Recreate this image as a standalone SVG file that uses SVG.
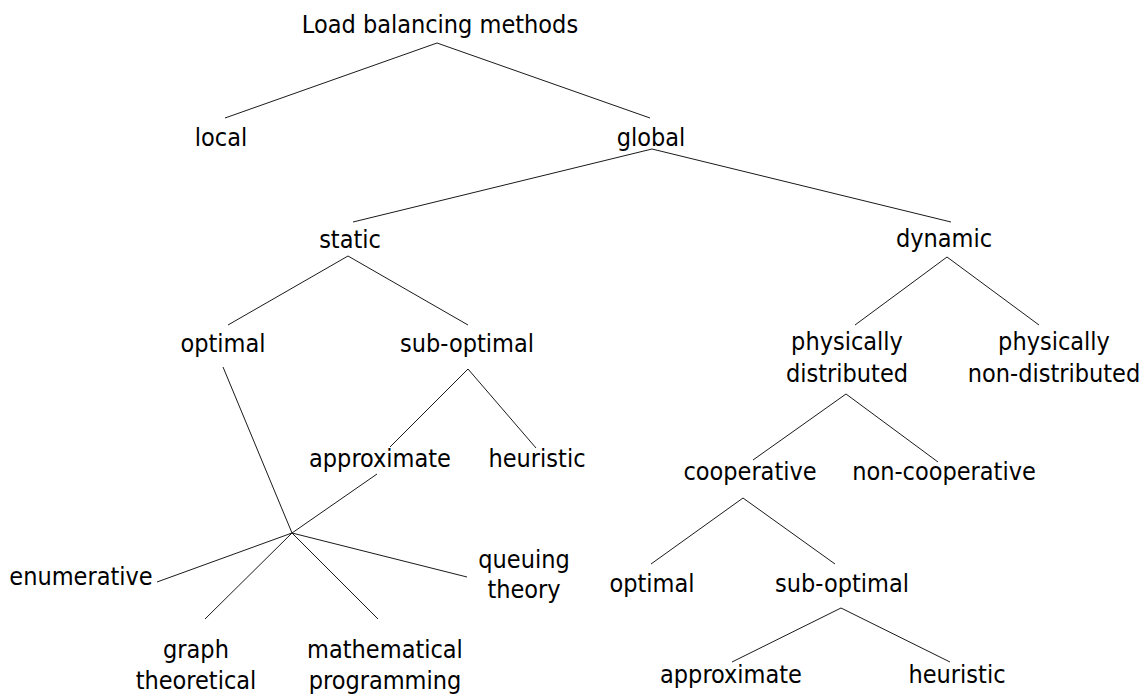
<svg xmlns="http://www.w3.org/2000/svg" width="1144" height="695" viewBox="0 0 1144 695">
<style>
text{font-family:"DejaVu Sans Condensed","DejaVu Sans",sans-serif;font-stretch:condensed;font-size:25px;fill:#000;text-anchor:middle}
.c line{stroke:#1a1a1a;stroke-width:1;fill:none}
</style>
<rect width="1144" height="695" fill="#fff"/>
<g class="c" id="connectors">
<line x1="437" y1="43" x2="225" y2="118"/>
<line x1="437" y1="43" x2="650" y2="118"/>
<line x1="652" y1="149" x2="353" y2="222"/>
<line x1="652" y1="149" x2="951" y2="222"/>
<line x1="348" y1="256" x2="228" y2="325"/>
<line x1="348" y1="256" x2="468" y2="325"/>
<line x1="947" y1="257" x2="855" y2="325"/>
<line x1="947" y1="257" x2="1039" y2="325"/>
<line x1="223" y1="367" x2="292" y2="533"/>
<line x1="468" y1="369" x2="390" y2="447"/>
<line x1="468" y1="369" x2="536" y2="448"/>
<line x1="377" y1="474" x2="292" y2="533"/>
<line x1="292" y1="533" x2="157" y2="582"/>
<line x1="292" y1="533" x2="205" y2="619"/>
<line x1="292" y1="533" x2="378" y2="619"/>
<line x1="292" y1="533" x2="467" y2="577"/>
<line x1="846" y1="394" x2="753" y2="460"/>
<line x1="846" y1="394" x2="938" y2="462"/>
<line x1="743" y1="498" x2="651" y2="564"/>
<line x1="743" y1="498" x2="835" y2="564"/>
<line x1="841" y1="608" x2="732" y2="662"/>
<line x1="841" y1="608" x2="950" y2="662"/>
</g>
<g id="root"><text x="440" y="33">Load balancing methods</text></g>
<g id="local"><text x="221" y="146">local</text></g>
<g id="global"><text x="651" y="146">global</text></g>
<g id="static"><text x="350" y="248">static</text></g>
<g id="dynamic"><text x="944" y="247">dynamic</text></g>
<g id="optimal1"><text x="223" y="352">optimal</text></g>
<g id="suboptimal1"><text x="467" y="352">sub-optimal</text></g>
<g id="approximate1"><text x="380" y="467">approximate</text></g>
<g id="heuristic1"><text x="537" y="467">heuristic</text></g>
<g id="enumerative"><text x="81" y="585">enumerative</text></g>
<g id="queuing"><text x="524" y="568">queuing</text><text x="524" y="598">theory</text></g>
<g id="graph"><text x="196" y="658">graph</text><text x="196" y="689">theoretical</text></g>
<g id="mathematical"><text x="385" y="658">mathematical</text><text x="385" y="689">programming</text></g>
<g id="physdist"><text x="847" y="350">physically</text><text x="847" y="382">distributed</text></g>
<g id="physnondist"><text x="1054" y="350">physically</text><text x="1054" y="382">non-distributed</text></g>
<g id="cooperative"><text x="750" y="480">cooperative</text></g>
<g id="noncooperative"><text x="944" y="480">non-cooperative</text></g>
<g id="optimal2"><text x="652" y="592">optimal</text></g>
<g id="suboptimal2"><text x="842" y="592">sub-optimal</text></g>
<g id="approximate2"><text x="731" y="683">approximate</text></g>
<g id="heuristic2"><text x="957" y="683">heuristic</text></g>
</svg>
